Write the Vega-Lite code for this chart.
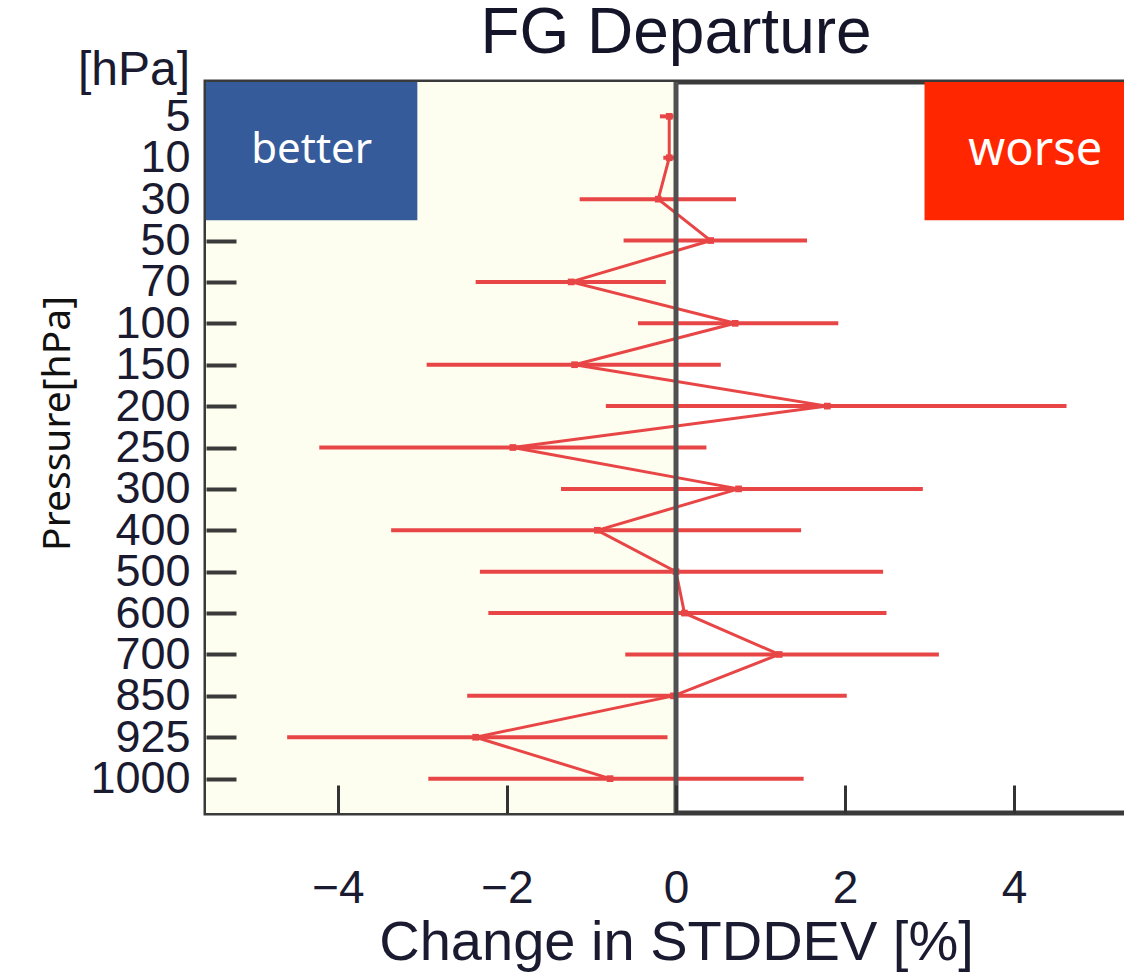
{
  "$schema": "https://vega.github.io/schema/vega-lite/v6.json",
  "autosize": {"type": "none"},
  "padding": {"left": 206, "top": 82, "right": -22, "bottom": 163},
  "width": 940,
  "height": 731,
  "background": "white",
  "title": {"text": "FG Departure", "fontSize": 64, "font": "Liberation Sans", "fontWeight": "normal", "color": "#15152a", "anchor": "middle", "baseline": "alphabetic", "offset": 0, "dy": 70},
  "config": {"view": {"stroke": "#3a3a3a", "strokeWidth": 5}},
  "datasets": {
    "levels": [
      {"p": 5, "mean": -0.08, "lo": -0.19, "hi": -0.03},
      {"p": 10, "mean": -0.08, "lo": -0.15, "hi": -0.02},
      {"p": 30, "mean": -0.21, "lo": -1.14, "hi": 0.71},
      {"p": 50, "mean": 0.41, "lo": -0.62, "hi": 1.55},
      {"p": 70, "mean": -1.24, "lo": -2.37, "hi": -0.12},
      {"p": 100, "mean": 0.7, "lo": -0.45, "hi": 1.92},
      {"p": 150, "mean": -1.2, "lo": -2.95, "hi": 0.53},
      {"p": 200, "mean": 1.79, "lo": -0.83, "hi": 4.62},
      {"p": 250, "mean": -1.93, "lo": -4.22, "hi": 0.36},
      {"p": 300, "mean": 0.74, "lo": -1.36, "hi": 2.92},
      {"p": 400, "mean": -0.93, "lo": -3.37, "hi": 1.48},
      {"p": 500, "mean": 0.0, "lo": -2.32, "hi": 2.45},
      {"p": 600, "mean": 0.1, "lo": -2.22, "hi": 2.49},
      {"p": 700, "mean": 1.22, "lo": -0.6, "hi": 3.11},
      {"p": 850, "mean": -0.03, "lo": -2.47, "hi": 2.02},
      {"p": 925, "mean": -2.37, "lo": -4.6, "hi": -0.1},
      {"p": 1000, "mean": -0.78, "lo": -2.93, "hi": 1.51}
    ],
    "zones": [
      {"label": "better", "from": -5.56, "to": -3.06},
      {"label": "worse", "from": 2.94, "to": 5.56}
    ]
  },
  "layer": [
    {
      "data": {"values": [{"from": -5.56, "to": 0}]},
      "mark": {"type": "rect", "color": "#fefef0"},
      "encoding": {
        "x": {
          "field": "from", "type": "quantitative",
          "scale": {"domain": [-5.56, 5.56], "nice": false, "zero": false},
          "axis": {
            "values": [-4, -2, 0, 2, 4],
            "format": "d",
            "title": "Change in STDDEV [%]",
            "grid": false, "domain": false,
            "tickSize": -28, "tickWidth": 3, "tickColor": "#333333",
            "labelFontSize": 46, "labelFont": "Liberation Sans", "labelColor": "#1a1a30",
            "labelPadding": 81, "labelFlush": false,
            "titleFont": "Liberation Sans", "titleFontSize": 56, "titleFontWeight": "normal", "titleColor": "#1a1a30",
            "titleY": 146, "titleBaseline": "alphabetic",
            "zindex": 1
          }
        },
        "x2": {"field": "to"}
      }
    },
    {
      "data": {"name": "zones"},
      "mark": {"type": "rect", "yOffset": -34.4, "y2Offset": 21},
      "encoding": {
        "x": {"field": "from", "type": "quantitative"},
        "x2": {"field": "to"},
        "y": {"datum": 5, "type": "ordinal"},
        "y2": {"datum": 30},
        "color": {"field": "label", "type": "nominal", "scale": {"domain": ["better", "worse"], "range": ["#365b9b", "#ff2600"]}, "legend": null}
      }
    },
    {
      "data": {"values": [{"label": "better"}]},
      "mark": {"type": "text", "font": "Noto Sans", "fontSize": 42, "color": "white", "align": "center", "baseline": "alphabetic", "dy": 5},
      "encoding": {
        "x": {"datum": -4.31},
        "y": {"datum": 10, "type": "ordinal"},
        "text": {"field": "label"}
      }
    },
    {
      "data": {"values": [{"label": "worse"}]},
      "mark": {"type": "text", "font": "Noto Sans", "fontSize": 47, "color": "white", "align": "center", "baseline": "alphabetic", "dy": 7},
      "encoding": {
        "x": {"datum": 4.25},
        "y": {"datum": 10, "type": "ordinal"},
        "text": {"field": "label"}
      }
    },
    {
      "data": {"name": "levels"},
      "mark": {"type": "rule", "color": "#e84646", "strokeWidth": 4},
      "encoding": {
        "x": {"field": "lo", "type": "quantitative"},
        "x2": {"field": "hi"},
        "y": {
          "field": "p", "type": "ordinal",
          "scale": {"type": "point", "padding": 0.83, "domain": [5, 10, 30, 50, 70, 100, 150, 200, 250, 300, 400, 500, 600, 700, 850, 925, 1000]},
          "axis": {
            "title": "Pressure[hPa]",
            "titleFont": "Noto Sans", "titleFontSize": 39, "titleFontWeight": "normal", "titleColor": "#111111",
            "titleX": -149, "titleY": 341, "titleAngle": -90, "titleBaseline": "middle", "titleAlign": "center",
            "labelFontSize": 45, "labelFont": "Liberation Sans", "labelColor": "#1a1a30",
            "labelPadding": 46, "labelAngle": 0, "labelBaseline": "middle",
            "tickSize": -30, "tickWidth": 4,
            "tickColor": {"condition": {"test": "datum.value <= 30", "value": "transparent"}, "value": "#3a3a3a"},
            "domain": false, "grid": false, "zindex": 1
          }
        }
      }
    },
    {
      "data": {"name": "levels"},
      "mark": {"type": "line", "color": "#e84646", "strokeWidth": 3},
      "encoding": {
        "x": {"field": "mean", "type": "quantitative"},
        "y": {"field": "p", "type": "ordinal"},
        "order": {"field": "p", "type": "quantitative"}
      }
    },
    {
      "data": {"name": "levels"},
      "mark": {"type": "point", "shape": "square", "filled": true, "size": 45, "color": "#e84646", "opacity": 1},
      "encoding": {
        "x": {"field": "mean", "type": "quantitative"},
        "y": {"field": "p", "type": "ordinal"}
      }
    },
    {
      "data": {"values": [{}]},
      "mark": {"type": "rule", "color": "#505050", "strokeWidth": 5},
      "encoding": {"x": {"datum": 0}}
    },
    {
      "data": {"values": [{"label": "[hPa]"}]},
      "mark": {"type": "text", "font": "Liberation Sans", "fontSize": 48, "color": "#1a1a30", "align": "right", "baseline": "alphabetic", "dx": -16, "dy": -31},
      "encoding": {
        "x": {"datum": -5.56},
        "y": {"datum": 5, "type": "ordinal"},
        "text": {"field": "label"}
      }
    }
  ]
}
